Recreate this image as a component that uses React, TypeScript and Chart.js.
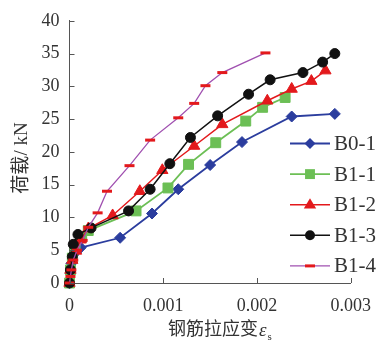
import React, { useEffect, useRef } from 'react';
import { Chart, registerables } from 'chart.js';

Chart.register(...registerables);

const seriesNames = ['B0-1', 'B1-1', 'B1-2', 'B1-3', 'B1-4'];

const b01Strain = [0, 0.00001, 0.00002, 0.00004, 0.00012, 0.00054, 0.00088, 0.00116, 0.0015, 0.00184, 0.00237, 0.00283];
const b01Load = [0, 1.5, 3, 4.3, 5.4, 6.9, 10.6, 14.3, 18.0, 21.5, 25.4, 25.8];

const b11Strain = [0, 0.00001, 0.00003, 0.00006, 0.00013, 0.0002, 0.00071, 0.00105, 0.00127, 0.00156, 0.00188, 0.00206, 0.0023];
const b11Load = [0, 2, 3.8, 5.5, 7, 8, 11.0, 14.5, 18.1, 21.4, 24.7, 26.8, 28.3];

const b12Strain = [0, 0.00001, 0.00003, 0.00007, 0.00012, 0.0002, 0.00046, 0.00075, 0.00099, 0.00133, 0.00163, 0.00211, 0.00237, 0.00258, 0.00273];
const b12Load = [0, 2, 3.5, 4.9, 6.6, 8.3, 10.3, 14.0, 17.2, 20.9, 24.2, 27.8, 29.6, 30.8, 32.4];

const b13Strain = [0, 0.00001, 0.00003, 0.00004, 0.00009, 0.00023, 0.00063, 0.00086, 0.00107, 0.00129, 0.00158, 0.00191, 0.00214, 0.00249, 0.0027, 0.00283];
const b13Load = [0, 2, 4, 5.9, 7.4, 8.4, 11.0, 14.3, 18.2, 22.2, 25.5, 28.8, 31.0, 32.1, 33.7, 35.0];

const b14Strain = [0, 0.00001, 0.00002, 0.00004, 0.00008, 0.00014, 0.0002, 0.0003, 0.0004, 0.00064, 0.00086, 0.00116, 0.00133, 0.00145, 0.00163, 0.00209];
const b14Load = [0, 1, 2, 3.5, 5, 6.5, 8.5, 10.7, 14.0, 17.9, 21.8, 25.2, 27.4, 30.1, 32.1, 35.1];

const xTickValues = [0, 0.001, 0.002, 0.003];
const xTickLabels = ['0', '0.001', '0.002', '0.003'];
const yTickValues = [0, 5, 10, 15, 20, 25, 30, 35, 40];

const yTitle = '荷载/ kN';
const xTitleMain = '钢筋拉应变';
const xTitleSymbol = 'ε';
const xTitleSub = 's';

const strains = [b01Strain, b11Strain, b12Strain, b13Strain, b14Strain];
const loads = [b01Load, b11Load, b12Load, b13Load, b14Load];

const styles = [
  { line: '#2b3d9e', fill: '#2b3d9e', point: 'rectRot', r: 5.5, lw: 1.8, pbw: 1 },
  { line: '#6cbf55', fill: '#6cbf55', point: 'rect', r: 7, lw: 1.8, pbw: 1 },
  { line: '#e3191c', fill: '#e3191c', point: 'triangle', r: 6.5, lw: 1.5, pbw: 1 },
  { line: '#111111', fill: '#111111', point: 'circle', r: 5, lw: 1.5, pbw: 1 },
  { line: '#a050b0', fill: '#e3191c', point: 'line', r: 5, lw: 1.3, pbw: 3 },
];

const SERIF = "'Liberation Serif', 'Noto Sans CJK SC', serif";
const TEXT = '#333333';
const AXIS = '#555555';

function drawMarker(ctx: CanvasRenderingContext2D, s: any, x: number, y: number) {
  const r = s.r;
  ctx.save();
  ctx.fillStyle = s.fill;
  ctx.strokeStyle = s.fill;
  ctx.beginPath();
  if (s.point === 'rectRot') {
    ctx.moveTo(x, y - r);
    ctx.lineTo(x + r, y);
    ctx.lineTo(x, y + r);
    ctx.lineTo(x - r, y);
    ctx.closePath();
    ctx.fill();
  } else if (s.point === 'rect') {
    const h = r * Math.SQRT1_2;
    ctx.rect(x - h, y - h, 2 * h, 2 * h);
    ctx.fill();
  } else if (s.point === 'triangle') {
    ctx.moveTo(x, y - r);
    ctx.lineTo(x + r * 0.95, y + r * 0.6);
    ctx.lineTo(x - r * 0.95, y + r * 0.6);
    ctx.closePath();
    ctx.fill();
  } else if (s.point === 'circle') {
    ctx.arc(x, y, r, 0, Math.PI * 2);
    ctx.fill();
  } else if (s.point === 'line') {
    ctx.lineWidth = s.pbw;
    ctx.moveTo(x - r, y);
    ctx.lineTo(x + r, y);
    ctx.stroke();
  }
  ctx.restore();
}

const decorPlugin = {
  id: 'decor',
  afterDraw(chart: any) {
    const ctx: CanvasRenderingContext2D = chart.ctx;
    const xs = chart.scales.x;
    const ys = chart.scales.y;
    const ca = chart.chartArea;
    ctx.save();
    // inward tick marks
    ctx.strokeStyle = AXIS;
    ctx.lineWidth = 1;
    ctx.beginPath();
    yTickValues.forEach((v) => {
      const py = Math.round(ys.getPixelForValue(v)) + 0.5;
      ctx.moveTo(ca.left, py);
      ctx.lineTo(ca.left + 5, py);
    });
    xTickValues.forEach((v) => {
      const px = Math.round(xs.getPixelForValue(v)) + 0.5;
      ctx.moveTo(px, ca.bottom);
      ctx.lineTo(px, ca.bottom - 5);
    });
    ctx.stroke();

    // y title
    ctx.fillStyle = TEXT;
    ctx.font = `19px ${SERIF}`;
    ctx.textAlign = 'center';
    ctx.textBaseline = 'middle';
    ctx.save();
    ctx.translate(22, 158);
    ctx.rotate(-Math.PI / 2);
    ctx.fillText(yTitle, 0, 0);
    ctx.restore();

    // x title
    ctx.textAlign = 'left';
    ctx.textBaseline = 'middle';
    ctx.font = `18px ${SERIF}`;
    const startX = 168;
    const ty = 330;
    ctx.fillText(xTitleMain, startX, ty);
    let cx = startX + ctx.measureText(xTitleMain).width + 1;
    ctx.font = `italic 19px ${SERIF}`;
    ctx.fillText(xTitleSymbol, cx, ty + 1);
    cx += ctx.measureText(xTitleSymbol).width + 1;
    ctx.font = `11px ${SERIF}`;
    ctx.fillText(xTitleSub, cx, ty + 7);

    // legend
    seriesNames.forEach((name, i) => {
      const s = styles[i];
      const ly = 143.5 + i * 30.6;
      ctx.strokeStyle = s.line;
      ctx.lineWidth = s.lw;
      ctx.beginPath();
      ctx.moveTo(290, ly);
      ctx.lineTo(330, ly);
      ctx.stroke();
      drawMarker(ctx, s, 310, ly);
      ctx.fillStyle = TEXT;
      ctx.font = `21px ${SERIF}`;
      ctx.textAlign = 'left';
      ctx.textBaseline = 'middle';
      ctx.fillText(name, 334, ly + 1);
    });
    ctx.restore();
  },
};

export default function App() {
  const ref = useRef<HTMLCanvasElement | null>(null);
  useEffect(() => {
    if (!ref.current) return;
    const datasets = seriesNames.map((name, i) => {
      const s = styles[i];
      return {
        label: name,
        data: strains[i].map((x, j) => ({ x, y: loads[i][j] })),
        borderColor: s.line,
        backgroundColor: s.fill,
        borderWidth: s.lw,
        pointStyle: s.point,
        pointRadius: s.r,
        pointBackgroundColor: s.fill,
        pointBorderColor: s.fill,
        pointBorderWidth: s.pbw,
        showLine: true,
        tension: 0,
        clip: false,
        order: 4 - i,
      };
    });
    const chart = new Chart(ref.current, {
      type: 'scatter',
      data: { datasets },
      options: {
        animation: false,
        responsive: false,
        devicePixelRatio: 1,
        layout: { padding: { left: 0, right: 22, top: 15, bottom: 0 } },
        plugins: { legend: { display: false }, tooltip: { enabled: false } },
        scales: {
          x: {
            type: 'linear',
            min: 0,
            max: 0.003,
            afterFit: (s: any) => { s.height = 64; },
            afterBuildTicks: (s: any) => { s.ticks = xTickValues.map((v) => ({ value: v })); },
            grid: { display: false, drawTicks: false },
            border: { display: true, color: AXIS, width: 1 },
            ticks: {
              padding: 12,
              color: TEXT,
              font: { family: SERIF, size: 18 },
              maxRotation: 0,
              callback: (v: any) => {
                const k = xTickValues.findIndex((t) => Math.abs(t - v) < 1e-9);
                return k >= 0 ? xTickLabels[k] : '';
              },
            },
          },
          y: {
            type: 'linear',
            min: 0,
            max: 40,
            afterFit: (s: any) => { s.width = 69.5; },
            afterBuildTicks: (s: any) => { s.ticks = yTickValues.map((v) => ({ value: v })); },
            grid: { display: false, drawTicks: false },
            border: { display: true, color: AXIS, width: 1 },
            ticks: {
              padding: 10,
              color: TEXT,
              font: { family: SERIF, size: 18 },
              callback: (v: any) => String(v),
            },
          },
        },
      },
      plugins: [decorPlugin],
    } as any);
    return () => chart.destroy();
  }, []);
  return (
    <div style={{ position: 'absolute', left: 0, top: 0, width: 383, height: 347, background: '#fff' }}>
      <canvas ref={ref} width={383} height={347} />
    </div>
  );
}
